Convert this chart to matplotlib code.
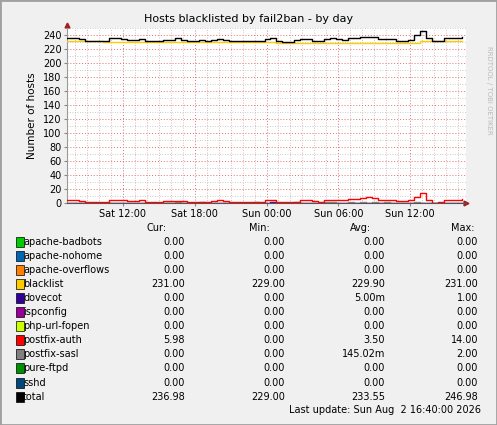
import numpy as np
import matplotlib
matplotlib.use("Agg")
import matplotlib.pyplot as plt
from matplotlib.ticker import MultipleLocator

# hours relative to Sun 00:00, half-hour samples from Sat 07:20 to Sun 16:20
t0 = -16.0 - 40 / 60
hours = t0 + 0.5 * np.arange(67)

postfix_auth = [4, 4, 3, 1, 1, 1, 2, 5, 5, 4, 3, 3, 4, 2, 2, 2, 3, 3, 3, 3, 2, 1, 1, 1,
                3, 4, 3, 2, 1, 1, 2, 1, 1, 4, 4, 2, 1, 1, 2, 5, 5, 3, 2, 4, 4, 5, 4, 6,
                6, 7, 8, 7, 5, 4, 5, 3, 3, 4, 9, 14, 5, 0, 1, 4, 5, 4, 6]
postfix_sasl = [0] * 67
for i in (18, 22, 31, 38, 43, 44, 47, 49, 51, 53, 58):
    postfix_sasl[i] = 1 if i % 2 else 2
blacklist = [231] * 6 + [230] * 29 + [229] * 24 + [231] * 8
dovecot = [0] * 67
dovecot[34] = 1
total = [b + a + s + d for b, a, s, d in zip(blacklist, postfix_auth, postfix_sasl, dovecot)]

names = ["apache-badbots", "apache-nohome", "apache-overflows", "blacklist", "dovecot",
         "ispconfig", "php-url-fopen", "postfix-auth", "postfix-sasl", "pure-ftpd", "sshd", "total"]
colors = ["#00cc00", "#0066b3", "#ff8000", "#ffcc00", "#330099", "#990099", "#ccff00",
          "#ff0000", "#808080", "#008f00", "#00487d", "#000000"]
cur = ["0.00", "0.00", "0.00", "231.00", "0.00", "0.00", "0.00", "5.98", "0.00", "0.00", "0.00", "236.98"]
mins = ["0.00", "0.00", "0.00", "229.00", "0.00", "0.00", "0.00", "0.00", "0.00", "0.00", "0.00", "229.00"]
avgs = ["0.00", "0.00", "0.00", "229.90", "5.00m", "0.00", "0.00", "3.50", "145.02m", "0.00", "0.00", "233.55"]
maxs = ["0.00", "0.00", "0.00", "231.00", "1.00", "0.00", "0.00", "14.00", "2.00", "0.00", "0.00", "246.98"]

W, H = 497, 425
fig = plt.figure(figsize=(W / 100, H / 100), dpi=100, facecolor="#f0f0f0")
plt.rcParams["font.family"] = "DejaVu Sans"
ax = fig.add_axes([67 / W, 1 - 203 / H, 399 / W, 175 / H])
ax.set_facecolor("white")

series = {"blacklist": blacklist, "dovecot": dovecot, "postfix-sasl": postfix_sasl,
          "postfix-auth": postfix_auth, "total": total}
for n, v in series.items():
    ax.step(hours, v, where="post", color=colors[names.index(n)], lw=1.0, zorder=3)

ax.set_xlim(t0, 16 + 40 / 60)
ax.set_ylim(0, 250)
ax.yaxis.set_major_locator(MultipleLocator(20))
ax.yaxis.set_minor_locator(MultipleLocator(10))
ax.set_xticks([-12, -6, 0, 6, 12])
ax.set_xticklabels(["Sat 12:00", "Sat 18:00", "Sun 00:00", "Sun 06:00", "Sun 12:00"])
ax.xaxis.set_minor_locator(MultipleLocator(1))
ax.grid(which="major", color="#e07070", ls=(0, (1, 2)), lw=0.7)
ax.grid(which="minor", color="#e0a0a0", ls=(0, (1, 2)), lw=0.6)
ax.grid(which="minor", axis="y", color="#bbbbbb", ls=(0, (1, 2)), lw=0.6)
ax.tick_params(labelsize=7, length=2, color="#888888", pad=2)
ax.tick_params(which="minor", length=0)
for s in ["top", "right"]:
    ax.spines[s].set_visible(False)
ax.spines["left"].set_color("#999999")
ax.spines["bottom"].set_color("#555555")
ax.plot([1], [0], ">", color="#a02020", ms=3.5, transform=ax.transAxes, clip_on=False)
ax.plot([0], [1.02], "^", color="#a02020", ms=3.5, transform=ax.transAxes, clip_on=False)
ax.plot([1, 1], [0, 1], color="#cccccc", lw=0.6, transform=ax.transAxes)
ax.set_ylabel("Number of hosts", fontsize=7.5)
fig.text(0.5, 1 - 19 / H, "Hosts blacklisted by fail2ban - by day", ha="center", va="center", fontsize=8)
fig.text(489 / W, 1 - 90 / H, "RRDTOOL / TOBI OETIKER", rotation=270, ha="center", va="center",
         fontsize=5, color="#bbbbbb")
fig.patches.append(plt.Rectangle((0, 0), 1, 1, transform=fig.transFigure, fill=False,
                                 edgecolor="#a0a0a0", lw=2))

# legend table
fy = lambda y: 1 - y / H
for label, x in zip(["Cur:", "Min:", "Avg:", "Max:"], [167, 270, 371, 474]):
    fig.text(x / W, fy(228), label, ha="right", va="center", fontsize=7)
for i, n in enumerate(names):
    y = 242 + i * 14.05
    fig.patches.append(plt.Rectangle((16 / W, fy(y + 5)), 8 / W, 10 / H, transform=fig.transFigure,
                                     facecolor=colors[i], edgecolor="black", lw=0.5))
    fig.text(23 / W, fy(y), n, ha="left", va="center", fontsize=7)
    for vals, x in zip([cur, mins, avgs, maxs], [185, 285, 385, 478]):
        fig.text(x / W, fy(y), vals[i], ha="right", va="center", fontsize=7)
fig.text(481 / W, fy(410), "Last update: Sun Aug  2 16:40:00 2026", ha="right", va="center", fontsize=7)

fig.savefig("out.png", dpi=100, facecolor=fig.get_facecolor())
